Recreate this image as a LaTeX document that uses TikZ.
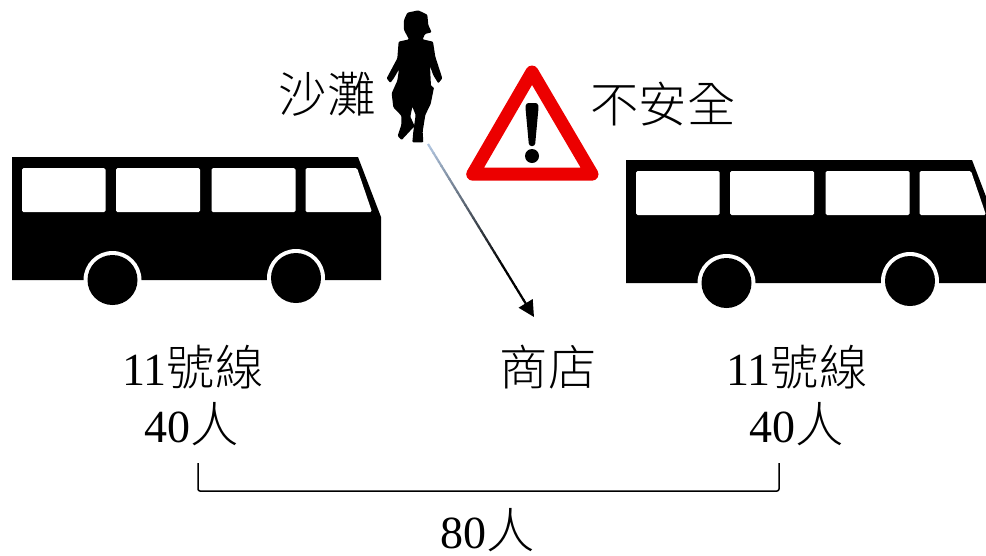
\documentclass[tikz,border=0pt]{standalone}
\usepackage{fontspec}
\setmainfont{Liberation Serif}
\newfontfamily\cjk[Scale=1.05]{Noto Sans CJK TC Light}
\usetikzlibrary{calc,arrows.meta}
\definecolor{warnred}{RGB}{236,0,0}
\definecolor{lineblue}{RGB}{176,196,222}
\tikzset{
  x=1pt,y=-1pt,
  lbl/.style={inner sep=0pt,font=\fontsize{46}{50}\selectfont,align=center},
  busicon/.pic={
    \fill[black] (12,157) -- (358,157) -- (381,217) -- (381,280) -- (12,280) -- cycle;
    \fill[white,rounded corners=1.5pt] (22,168) rectangle (105.5,212);
    \fill[white,rounded corners=1.5pt] (116,168) rectangle (200,212);
    \fill[white,rounded corners=1.5pt] (211.5,168) rectangle (295.5,212);
    \fill[white,rounded corners=1.5pt] (305.5,168) -- (357,168) -- (372,212) -- (305.5,212) -- cycle;
    \fill[white] (112.5,280) circle (29);
    \fill[white] (296,278) circle (29);
    \fill[black] (112.5,280) circle (25);
    \fill[black] (296,278) circle (25);
  }
}
\begin{document}
\begin{tikzpicture}
\useasboundingbox (0,0) rectangle (986,555);
\pic at (0,0) {busicon};
\pic at (614,3) {busicon};
% person
\begin{scope}[shift={(270,0)},x=0.3333pt,y=-0.3333pt]
\fill[black,rounded corners=1pt] (402,60) -- (412,38) -- (445,31) -- (472,44) -- (475,75) -- (485,97) -- (465,102) -- (458,118) -- (489,125) -- (496,170) -- (517,235) -- (505,250) -- (490,226) -- (480,198) -- (483,258) -- (492,262) -- (482,312) -- (466,345) -- (458,395) -- (460,427) -- (427,427) -- (430,395) -- (437,345) -- (427,320) -- (421,350) -- (434,378) -- (395,420) -- (383,408) -- (394,375) -- (394,347) -- (370,322) -- (365,280) -- (382,242) -- (387,208) -- (372,234) -- (361,249) -- (350,235) -- (382,175) -- (386,125) -- (417,118) -- (402,90) -- cycle;
\end{scope}
% warning sign
\draw[warnred,line width=13pt,line join=round] (532,72) -- (592,174.2) -- (472.7,174.2) -- cycle;
\fill[black,rounded corners=2.5pt] (525.5,108) -- (526,103) -- (538,103) -- (538.5,108) -- (535,146) -- (529,146) -- cycle;
\fill[black] (532,156) circle (7);
% arrow
\coordinate (walkstart) at (428,144);
\coordinate (shoptip) at (534,317);
\foreach \i in {0,...,38}{
  \pgfmathtruncatemacro{\pct}{min(100,\i*100/28)}
  \pgfmathsetmacro{\nxt}{(\i+1.15)/40}
  \draw[line width=2.2pt,color=black!\pct!lineblue] ($(walkstart)!\i/40!(shoptip)$) -- ($(walkstart)!\nxt!(shoptip)$);
}
\draw[black,line width=2.2pt,-{Triangle[length=16pt,width=16pt]}] ($(walkstart)!39/40!(shoptip)$) -- (shoptip);
% bracket
\coordinate (brL) at (198,463);
\coordinate (brR) at (779,463);
\draw[black,line width=1.5pt,rounded corners=2pt] (brL) -- (198,491) -- (779,491) -- (brR);
% labels
\node[lbl] (beach) at (327,94) {\cjk 沙灘};
\node[lbl] (unsafe) at (663,104) {\cjk 不安全};
\node[lbl] (line1) at (193,367) {11{\cjk 號線}};
\node[lbl] (num1) at (192,424) {40{\cjk 人}};
\node[lbl] (shop) at (548,367) {\cjk 商店};
\node[lbl] (line2) at (797,367) {11{\cjk 號線}};
\node[lbl] (num2) at (797,424) {40{\cjk 人}};
\node[lbl] (total) at (488,530) {80{\cjk 人}};
\end{tikzpicture}
\end{document}
